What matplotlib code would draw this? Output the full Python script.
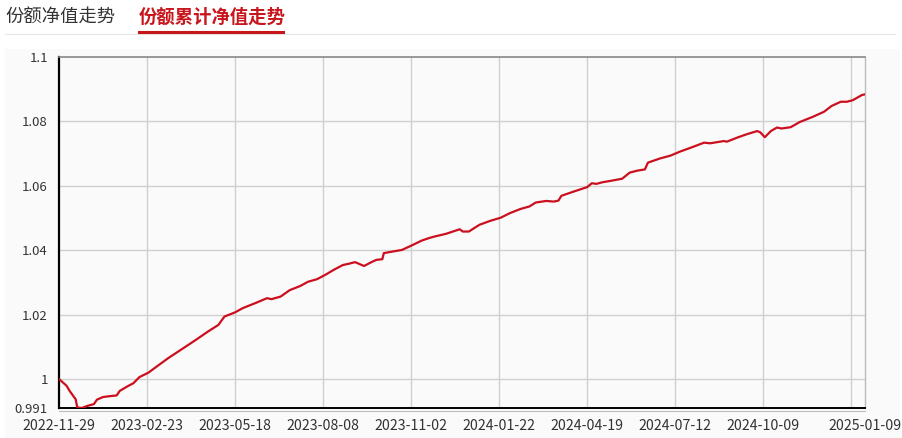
import matplotlib
matplotlib.use("Agg")
import matplotlib.pyplot as plt
from matplotlib.lines import Line2D
from matplotlib.patches import Rectangle

plt.rcParams['font.family'] = ['Noto Sans CJK SC', 'DejaVu Sans']

# trading-day index and cumulative NAV
day = [0, 5, 7, 11, 12, 15, 19, 23, 25, 29, 32, 38, 40, 45, 49, 53, 59, 63, 72, 81,
       90, 98, 105, 109, 116, 121, 130, 137, 140, 146, 152, 159, 164, 170, 176, 181,
       187, 191, 195, 201, 205, 209, 213, 214, 220, 226, 232, 239, 244, 247, 255, 264,
       266, 270, 277, 284, 291, 297, 304, 310, 314, 321, 326, 329, 331, 339, 348, 351,
       354, 358, 363, 371, 376, 381, 386, 388, 396, 403, 409, 416, 425, 429, 438, 440,
       447, 453, 460, 462, 465, 469, 473, 476, 482, 488, 497, 504, 509, 515, 519, 523,
       529, 531]
nav = [1.0, 0.9979, 0.9963, 0.9937, 0.9912, 0.991, 0.9917, 0.9922, 0.9936, 0.9944,
       0.9946, 0.9949, 0.9963, 0.9977, 0.9987, 1.0006, 1.002, 1.0034, 1.0065, 1.0093,
       1.0121, 1.0147, 1.0168, 1.0194, 1.0207, 1.022, 1.0237, 1.0251, 1.0248, 1.0256,
       1.0276, 1.0289, 1.0302, 1.031, 1.0325, 1.0339, 1.0354, 1.0358, 1.0363, 1.0351,
       1.0361, 1.037, 1.0372, 1.0391, 1.0396, 1.0401, 1.0414, 1.043, 1.0438, 1.0442,
       1.0451, 1.0465, 1.0458, 1.0458, 1.0479, 1.0491, 1.0501, 1.0515, 1.0528, 1.0536,
       1.0548, 1.0553, 1.0551, 1.0554, 1.0569, 1.0582, 1.0596, 1.0608, 1.0606, 1.0611,
       1.0615, 1.0622, 1.0641, 1.0647, 1.0651, 1.0672, 1.0685, 1.0694, 1.0706, 1.0718,
       1.0734, 1.0732, 1.0739, 1.0737, 1.075, 1.076, 1.077, 1.0766, 1.0751, 1.077,
       1.0781, 1.0778, 1.0782, 1.0798, 1.0815, 1.083, 1.0848, 1.0861, 1.0861, 1.0866,
       1.0882, 1.0884]

grid_days = [0, 58, 116, 174, 232, 290, 348, 406, 464, 522]
tick_days = [0, 58, 116, 174, 232, 290, 348, 406, 464, 531]
tick_labels = ['2022-11-29', '2023-02-23', '2023-05-18', '2023-08-08', '2023-11-02',
               '2024-01-22', '2024-04-19', '2024-07-12', '2024-10-09', '2025-01-09']
y_ticks = [0.991, 1.0, 1.02, 1.04, 1.06, 1.08, 1.1]
y_labels = ['0.991', '1', '1.02', '1.04', '1.06', '1.08', '1.1']

W, H = 903, 438
fig = plt.figure(figsize=(W / 100, H / 100), dpi=100)
fig.patch.set_facecolor('white')

# light panel behind the chart
fig.patches.append(Rectangle((5 / W, 0), 895 / W, 1 - 49 / H, transform=fig.transFigure,
                             facecolor='#fafafa', edgecolor='none', zorder=-5))

# tabs
fig.text(5 / W, 1 - 17 / H, '份额净值走势', fontsize=13.2, color='#333333', va='center', ha='left')
fig.text(139 / W, 1 - 17 / H, '份额累计净值走势', fontsize=13.2, color='#c8161d',
         fontweight='bold', va='center', ha='left')
fig.lines.append(Line2D([5 / W, 895 / W], [1 - 33.5 / H] * 2, transform=fig.transFigure,
                        color='#e6e6e6', lw=0.8))
fig.lines.append(Line2D([139 / W, 283 / W], [1 - 32 / H] * 2, transform=fig.transFigure,
                        color='#c8161d', lw=2.2))

ax = fig.add_axes([59 / W, 1 - 408 / H, (865 - 59) / W, (408 - 57) / H])
ax.set_zorder(2)
ax.set_facecolor('#fafafa')
ax.set_xlim(0, 531)
ax.set_ylim(0.991, 1.1)

for g in grid_days[1:]:
    ax.axvline(g, color='#d0d0d0', lw=1, zorder=1)
for v in y_ticks[1:-1]:
    ax.axhline(v, color='#d0d0d0', lw=1, zorder=1)

ax.plot(day, nav, color='#cc0f1f', lw=1.6, zorder=3)

ax.set_xticks(tick_days)
ax.set_xticklabels(tick_labels)
ax.set_yticks(y_ticks)
ax.set_yticklabels(y_labels)
ax.tick_params(axis='x', length=0, pad=8, labelsize=10.2, colors='#333333')
ax.tick_params(axis='y', length=0, pad=8, labelsize=9.5, colors='#333333')

ax.spines['left'].set_color('black')
ax.spines['left'].set_linewidth(1.6)
ax.spines['bottom'].set_color('black')
ax.spines['bottom'].set_linewidth(1.4)
ax.spines['top'].set_color('#888888')
ax.spines['top'].set_linewidth(1.2)
ax.spines['right'].set_color('#bbbbbb')
ax.spines['right'].set_linewidth(1)

# thin grey line under the x axis
fig.lines.append(Line2D([59 / W, 865 / W], [1 - 410.5 / H] * 2, transform=fig.transFigure,
                        color='#bbbbbb', lw=0.8))

fig.savefig('out.png', dpi=100)
